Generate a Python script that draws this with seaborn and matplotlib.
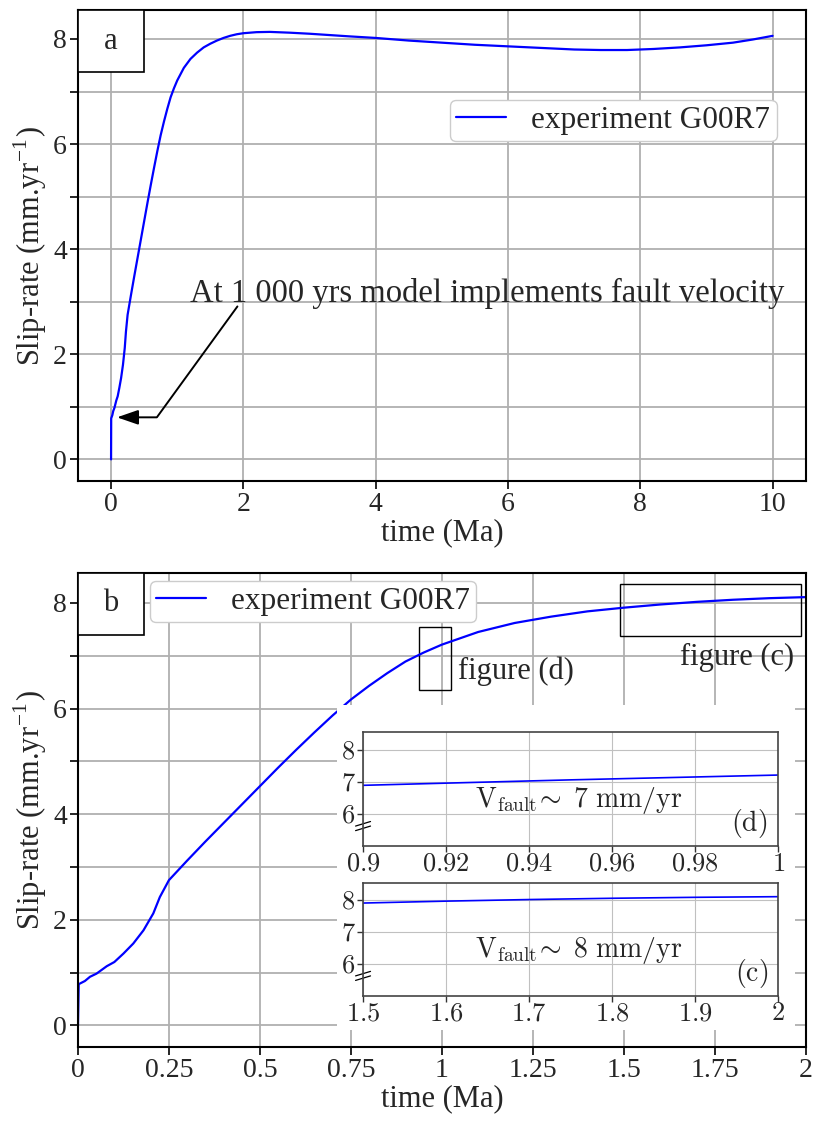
import numpy as np
import matplotlib
matplotlib.use("Agg")
import matplotlib.pyplot as plt
from matplotlib.patches import Rectangle
from matplotlib.ticker import MultipleLocator, FuncFormatter
import seaborn as sns

# slip-rate history of experiment G00R7
time_ma = [0.0, 0.002, 0.019, 0.033, 0.051, 0.079, 0.10, 0.125, 0.152, 0.18,
           0.207, 0.225, 0.25, 0.30, 0.35, 0.40, 0.45, 0.50, 0.55, 0.60,
           0.65, 0.70, 0.75, 0.80, 0.85, 0.90, 0.95, 1.0, 1.1, 1.2,
           1.3, 1.4, 1.5, 1.6, 1.7, 1.8, 1.9, 2.0, 2.2, 2.4,
           2.7, 3.0, 3.6, 4.0, 4.5, 5.0, 5.5, 6.0, 6.5, 7.0,
           7.4, 7.8, 8.2, 8.6, 9.0, 9.4, 9.7, 10.0]
slip_rate = [0.0, 0.78, 0.84, 0.92, 0.98, 1.12, 1.20, 1.36, 1.55, 1.80,
             2.12, 2.43, 2.75, 3.12, 3.48, 3.83, 4.18, 4.53, 4.88, 5.22,
             5.55, 5.87, 6.17, 6.43, 6.67, 6.89, 7.06, 7.21, 7.45, 7.62,
             7.74, 7.84, 7.91, 7.97, 8.02, 8.06, 8.09, 8.11, 8.13, 8.135,
             8.12, 8.10, 8.05, 8.02, 7.97, 7.93, 7.89, 7.86, 7.83, 7.80,
             7.79, 7.79, 7.81, 7.84, 7.88, 7.93, 7.99, 8.06]

label = "experiment G00R7"
ticks_a_x = [0, 2, 4, 6, 8, 10]
ticks_b_x = [0, 0.25, 0.5, 0.75, 1, 1.25, 1.5, 1.75, 2]
ticks_y = [0, 2, 4, 6, 8]
inset_d_x = [0.9, 0.92, 0.94, 0.96, 0.98, 1.0]
inset_c_x = [1.5, 1.6, 1.7, 1.8, 1.9, 2.0]
inset_y = [6, 7, 8]

sns.set_style("ticks")
plt.rcParams['font.family'] = ['Liberation Serif', 'DejaVu Serif']
plt.rcParams['mathtext.fontset'] = 'cm'

fig = plt.figure(figsize=(8.14, 11.21), dpi=100)
ax_a = fig.add_axes([0.0958, 0.571, 0.894, 0.420])
ax_b = fig.add_axes([0.0958, 0.066, 0.894, 0.423])

grid_kw = dict(color='#b0b0b0', linewidth=1.3)


def style_main(ax, xticks):
    ax.set_xticks(xticks)
    ax.set_yticks(ticks_y)
    ax.yaxis.set_minor_locator(MultipleLocator(1))
    ax.grid(True, which='major', **grid_kw)
    ax.grid(True, which='minor', axis='y', **grid_kw)
    ax.tick_params(axis='both', which='both', direction='out', length=6,
                   width=1.2, labelsize=20, color='black', pad=2)
    for s in ax.spines.values():
        s.set_color('black')
        s.set_linewidth(1.5)
    ax.set_xlabel('time (Ma)', fontsize=22, labelpad=1)
    ax.set_ylabel('Slip-rate (mm.yr$^{\\mathregular{-1}}$)', fontsize=22, labelpad=3)


def panel_box(ax, letter, h):
    ax.add_patch(Rectangle((0, 1 - h), 0.0907, h, transform=ax.transAxes,
                           facecolor='white', edgecolor='black', lw=1.2,
                           zorder=5, clip_on=False))
    ax.text(0.0453, 1 - h / 2, letter, transform=ax.transAxes, ha='center',
            va='center', fontsize=22, zorder=6)


# ---- panel a ----
sns.lineplot(x=time_ma, y=slip_rate, ax=ax_a, color='blue', linewidth=1.6,
             label=label, estimator=None)
ax_a.set_xlim(-0.5, 10.5)
ax_a.set_ylim(-0.41, 8.55)
style_main(ax_a, ticks_a_x)
ax_a.set_xticklabels([str(t) for t in ticks_a_x])
ax_a.legend(loc='upper right', bbox_to_anchor=(0.96, 0.81), borderaxespad=0,
            fontsize=22.5, handlelength=1.6, borderpad=0.2, framealpha=1,
            edgecolor='#cccccc')
panel_box(ax_a, 'a', 0.132)
ax_a.annotate('', xy=(0.09, 0.8), xytext=(1.91, 2.91),
              arrowprops=dict(arrowstyle='-|>,head_length=1.3,head_width=0.45',
                              connectionstyle='angle,angleA=54,angleB=0,rad=0',
                              color='black', lw=1.4, shrinkA=0, shrinkB=0))
ax_a.text(1.19, 3.16, 'At 1 000 yrs model implements fault velocity',
          fontsize=23.5, ha='left', va='center')

# ---- panel b ----
sns.lineplot(x=time_ma, y=slip_rate, ax=ax_b, color='blue', linewidth=1.6,
             label=label, estimator=None)
ax_b.set_xlim(0, 2)
ax_b.set_ylim(-0.41, 8.57)
style_main(ax_b, ticks_b_x)
ax_b.set_xticklabels(['0', '0.25', '0.5', '0.75', '1', '1.25', '1.5', '1.75', '2'])
ax_b.legend(loc='upper left', bbox_to_anchor=(0.099, 0.983), borderaxespad=0,
            fontsize=22.5, handlelength=1.6, borderpad=0.2, framealpha=1,
            edgecolor='#cccccc')
panel_box(ax_b, 'b', 0.131)
ax_b.add_patch(Rectangle((0.937, 6.35), 0.088, 1.2, fill=False,
                         edgecolor='black', lw=1))
ax_b.text(1.044, 6.71, 'figure (d)', fontsize=22, ha='left', va='center')
ax_b.add_patch(Rectangle((1.489, 7.37), 0.497, 0.99, fill=False,
                         edgecolor='black', lw=1))
ax_b.text(1.655, 6.96, 'figure (c)', fontsize=22, ha='left', va='center')

# white backing behind the insets
fig.patches.append(Rectangle((0.414, 0.081), 0.563, 0.29,
                             transform=fig.transFigure, facecolor='white',
                             edgecolor='none', zorder=1))

math_fmt = FuncFormatter(lambda v, p: '$%g$' % round(v, 3))


def style_inset(ax, xlim, xticks, txt, letter):
    sns.lineplot(x=time_ma, y=slip_rate, ax=ax, color='blue', linewidth=1.2,
                 estimator=None, legend=False)
    ax.set_xlim(*xlim)
    ax.set_ylim(5, 8.55)
    ax.set_xticks(xticks)
    ax.set_yticks(inset_y)
    ax.xaxis.set_major_formatter(math_fmt)
    ax.yaxis.set_major_formatter(math_fmt)
    ax.grid(True, color='#c0c0c0', linewidth=0.8)
    ax.tick_params(axis='both', direction='out', length=4, width=1,
                   labelsize=19, pad=1.5, color='#333333')
    for s in ax.spines.values():
        s.set_color('#444444')
        s.set_linewidth(1.2)
    ax.set_xlabel('')
    ax.set_ylabel('')
    ax.text(0.52, 0.40, txt, transform=ax.transAxes, ha='center', va='center',
            fontsize=20)
    ax.text(0.975, 0.2, letter, transform=ax.transAxes, ha='right',
            va='center', fontsize=20)
    # axis break marks
    for dy in (0.0, 0.04):
        ax.plot([-0.018, 0.018], [0.135 + dy, 0.175 + dy], color='black',
                lw=0.9, transform=ax.transAxes, clip_on=False)


ax_d = fig.add_axes([0.446, 0.2453, 0.510, 0.1017], zorder=2)
style_inset(ax_d, (0.9, 1.0), inset_d_x,
            r'$\mathrm{V_{fault}}\!\sim\ 7\ \mathrm{mm/yr}$', r'$\mathrm{(d)}$')
ax_c = fig.add_axes([0.446, 0.1118, 0.510, 0.1008], zorder=2)
style_inset(ax_c, (1.5, 2.0), inset_c_x,
            r'$\mathrm{V_{fault}}\!\sim\ 8\ \mathrm{mm/yr}$', r'$\mathrm{(c)}$')

fig.savefig('out.png', dpi=100)
